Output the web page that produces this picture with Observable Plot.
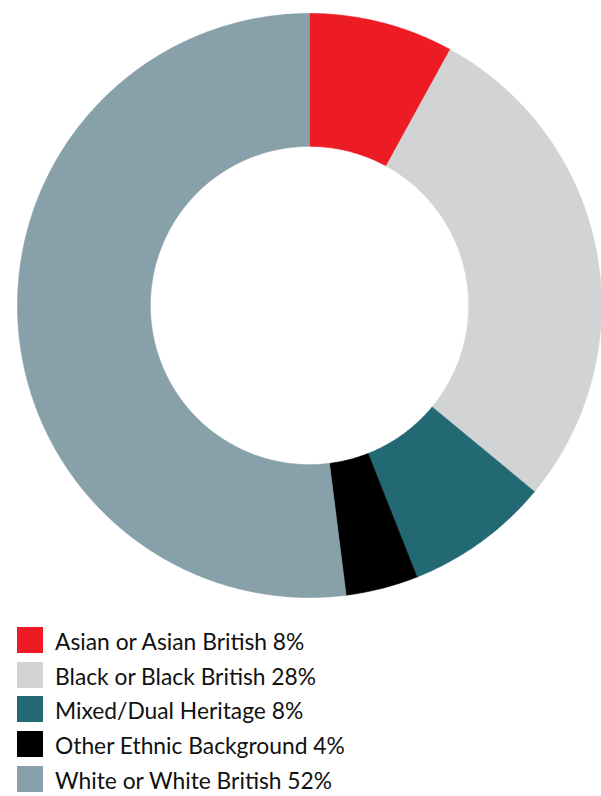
<!DOCTYPE html>
<html>
<head>
<meta charset="utf-8">
<script src="https://cdn.jsdelivr.net/npm/d3@7"></script>
<script src="https://cdn.jsdelivr.net/npm/@observablehq/plot@0.6"></script>
<style>
  html, body { margin: 0; padding: 0; background: #fff; }
  #chart svg { display: block; }
  .legend { position: relative; margin: 0; padding: 0; font-family: "Lato", "Noto Sans", sans-serif; }
  .item { position: absolute; left: 17px; height: 26px; display: flex; align-items: center; }
  .sw { width: 26px; height: 26px; flex: none; }
  .lbl { margin-left: 12px; font-size: 22.8px; color: #111; white-space: nowrap; line-height: 26px; position: relative; top: 1px; }
</style>
</head>
<body>
<div id="chart"></div>
<div class="legend" id="legend"></div>
<script>
const categories = ["Asian or Asian British", "Black or Black British", "Mixed/Dual Heritage", "Other Ethnic Background", "White or White British"];
const values = [8, 28, 8, 4, 52];
const colors = ["#ED1C24", "#D1D3D4", "#236973", "#000000", "#87A0AA"];
const innerRatio = 0.545;

// Build slice polygons from data via d3.pie (clockwise from top)
const pie = d3.pie().sort(null).startAngle(0).endAngle(2 * Math.PI)(values);
const pts = [];
pie.forEach((s, i) => {
  const n = Math.max(8, Math.ceil((s.endAngle - s.startAngle) * 80));
  const poly = [];
  for (let k = 0; k <= n; k++) {
    const a = s.startAngle + (s.endAngle - s.startAngle) * k / n;
    poly.push([Math.sin(a), Math.cos(a)]);
  }
  for (let k = n; k >= 0; k--) {
    const a = s.startAngle + (s.endAngle - s.startAngle) * k / n;
    poly.push([innerRatio * Math.sin(a), innerRatio * Math.cos(a)]);
  }
  poly.push(poly[0]);
  poly.forEach(([x, y]) => pts.push({cat: categories[i], x, y}));
});

const chart = Plot.plot({
  width: 601,
  height: 610,
  marginLeft: 17,
  marginRight: 0,
  marginTop: 13,
  marginBottom: 13,
  x: {domain: [-1, 1], axis: null},
  y: {domain: [-1, 1], axis: null},
  color: {domain: categories, range: colors},
  marks: [
    Plot.line(pts, {x: "x", y: "y", z: "cat", fill: "cat", stroke: "cat", strokeWidth: 0.6, curve: "linear"})
  ]
});
document.getElementById("chart").appendChild(chart);

const legend = document.getElementById("legend");
legend.style.height = "186px";
categories.forEach((c, i) => {
  const item = document.createElement("div");
  item.className = "item";
  item.style.top = (17 + i * 34.7) + "px";
  const sw = document.createElement("div");
  sw.className = "sw";
  sw.style.background = colors[i];
  const lbl = document.createElement("span");
  lbl.className = "lbl";
  lbl.textContent = `${c} ${values[i]}%`;
  item.appendChild(sw);
  item.appendChild(lbl);
  legend.appendChild(item);
});
</script>
</body>
</html>
